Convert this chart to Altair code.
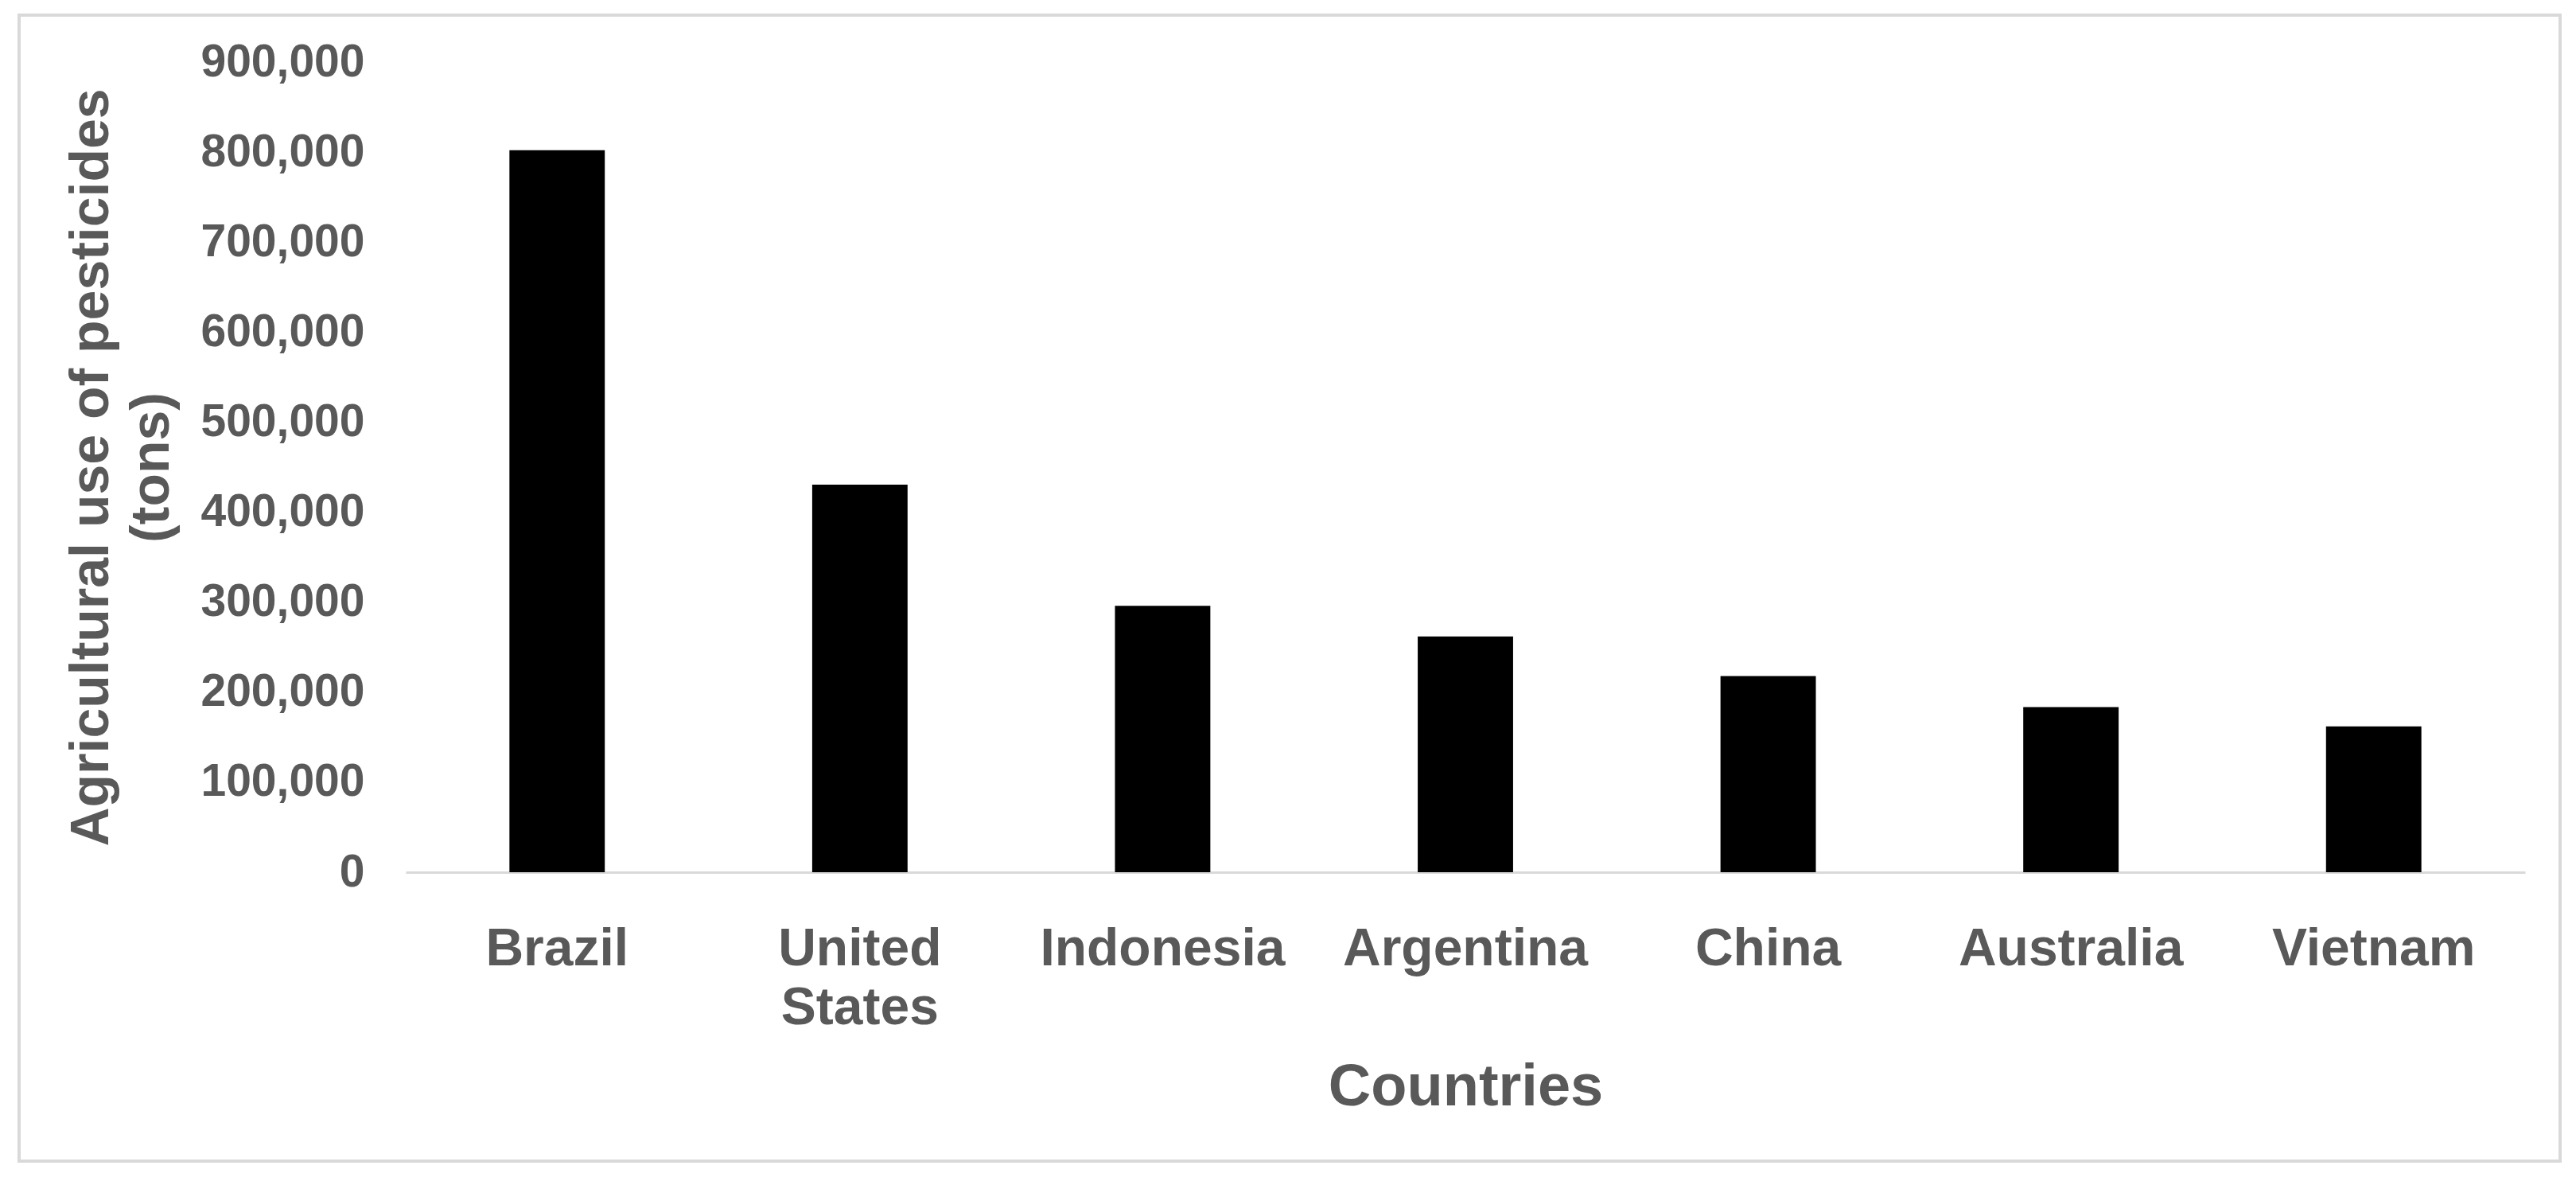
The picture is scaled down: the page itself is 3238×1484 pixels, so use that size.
import altair as alt
import pandas as pd

countries = ["Brazil", "United States", "Indonesia", "Argentina", "China", "Australia", "Vietnam"]
values = [802000, 430500, 296000, 262000, 218000, 183500, 162000]
y_ticks = [0, 100000, 200000, 300000, 400000, 500000, 600000, 700000, 800000, 900000]

df = pd.DataFrame({"country": countries, "value": values})

FONT = "Liberation Sans"
GRAY = "#595959"

bars = alt.Chart(df).mark_bar(color="#000000").encode(
    x=alt.X(
        "country:N",
        sort=countries,
        scale=alt.Scale(paddingInner=0.685, paddingOuter=0.3425),
        axis=alt.Axis(
            title="Countries",
            labelAngle=0,
            labelExpr="split(datum.label, ' ')",
            labelFont=FONT,
            labelFontWeight="bold",
            labelFontSize=66,
            labelColor=GRAY,
            labelBaseline="top",
            labelPadding=64,
            labelLineHeight=74,
            labelLimit=0,
            ticks=False,
            domainColor="#d9d9d9",
            domainWidth=3,
            titleFont=FONT,
            titleFontWeight="bold",
            titleFontSize=74,
            titleColor=GRAY,
            titleBaseline="alphabetic",
            titleY=292,
        ),
    ),
    y=alt.Y(
        "value:Q",
        scale=alt.Scale(domain=[0, 900000], nice=False),
        axis=alt.Axis(
            title=["Agricultural use of pesticides", "(tons)"],
            values=y_ticks,
            format=",d",
            grid=False,
            domain=False,
            ticks=False,
            labelFont=FONT,
            labelFontWeight="bold",
            labelFontSize=57,
            labelColor=GRAY,
            labelPadding=52,
            labelLimit=0,
            titleFont=FONT,
            titleFontWeight="bold",
            titleFontSize=68,
            titleColor=GRAY,
            titleAngle=270,
            titleAlign="center",
            titleBaseline="middle",
            titleLineHeight=76,
            titleX=-395,
            titleY=509,
            titleLimit=0,
        ),
    ),
)

frame = alt.Chart(df).mark_rect(
    fill=None, stroke="#d9d9d9", strokeWidth=4
).encode(
    x=alt.value(-486), x2=alt.value(2708), y=alt.value(-59), y2=alt.value(1381)
)

chart = alt.layer(frame, bars).properties(
    width=2664,
    height=1018,
    autosize=alt.AutoSizeParams(type="none"),
    padding={"left": 502, "top": 70, "right": 48, "bottom": 370},
    background="white",
).configure_view(stroke=None)

chart.save("out.html", embed_options={"renderer": "svg", "actions": False})
